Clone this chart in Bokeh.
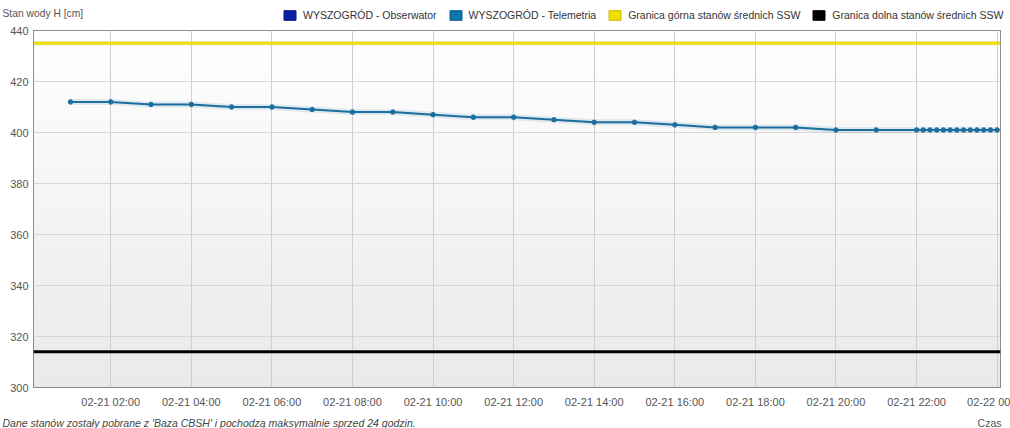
import numpy as np
import pandas as pd
from bokeh.plotting import figure
from bokeh.layouts import column
from bokeh.models import Range1d, FixedTicker, Legend, LegendItem, Label, ColumnDataSource
from bokeh.embed import file_html
from bokeh.resources import INLINE

# ---------------- data ----------------
times = [
    "2025-02-21 01:00", "2025-02-21 02:00", "2025-02-21 03:00", "2025-02-21 04:00",
    "2025-02-21 05:00", "2025-02-21 06:00", "2025-02-21 07:00", "2025-02-21 08:00",
    "2025-02-21 09:00", "2025-02-21 10:00", "2025-02-21 11:00", "2025-02-21 12:00",
    "2025-02-21 13:00", "2025-02-21 14:00", "2025-02-21 15:00", "2025-02-21 16:00",
    "2025-02-21 17:00", "2025-02-21 18:00", "2025-02-21 19:00", "2025-02-21 20:00",
    "2025-02-21 21:00", "2025-02-21 22:00", "2025-02-21 22:10", "2025-02-21 22:20",
    "2025-02-21 22:30", "2025-02-21 22:40", "2025-02-21 22:50", "2025-02-21 23:00",
    "2025-02-21 23:10", "2025-02-21 23:20", "2025-02-21 23:30", "2025-02-21 23:40",
    "2025-02-21 23:50", "2025-02-22 00:00",
]
telemetry_cm = [
    412, 412, 411, 411, 410, 410, 409, 408, 408, 407, 406, 406, 405, 404, 404, 403,
    402, 402, 402, 401, 401, 401, 401, 401, 401, 401, 401, 401, 401, 401, 401, 401,
    401, 401,
]
observer_times = []
observer_cm = []
upper_limit_cm = 435
lower_limit_cm = 314
range_start = "2025-02-21 00:05"
range_end = "2025-02-22 00:05"
y_min, y_max = 300, 440
y_ticks = [300, 320, 340, 360, 380, 400, 420, 440]
tick_times = [
    "2025-02-21 02:00", "2025-02-21 04:00", "2025-02-21 06:00", "2025-02-21 08:00",
    "2025-02-21 10:00", "2025-02-21 12:00", "2025-02-21 14:00", "2025-02-21 16:00",
    "2025-02-21 18:00", "2025-02-21 20:00", "2025-02-21 22:00", "2025-02-22 00:00",
]
tick_labels = [
    "02-21 02:00", "02-21 04:00", "02-21 06:00", "02-21 08:00", "02-21 10:00",
    "02-21 12:00", "02-21 14:00", "02-21 16:00", "02-21 18:00", "02-21 20:00",
    "02-21 22:00", "02-22 00",
]
series_names = [
    "WYSZOGRÓD - Obserwator",
    "WYSZOGRÓD - Telemetria",
    "Granica górna stanów średnich SSW",
    "Granica dolna stanów średnich SSW",
]
y_title = "Stan wody H [cm]"
x_title = "Czas"
footer_text = "Dane stanów zostały pobrane z 'Baza CBSH' i pochodzą maksymalnie sprzed 24 godzin."

# ---------------- styles ----------------
FONT = "Liberation Sans"
C_OBS = "#0a1fa8"
C_TEL = "#0d77ad"
C_LINE = "#1b6e9e"
C_UP = "#f0e000"
C_LOW = "#000000"
TXT = "#555555"
W = 1010
HEAD_H, MAIN_H, FOOT_H = 26, 384, 18


def ms(s):
    return int(pd.Timestamp(s).value // 10**6)


def bare(fig):
    fig.outline_line_color = None
    fig.background_fill_color = None
    fig.border_fill_color = "white"
    fig.min_border = 0
    fig.min_border_left = 0
    fig.min_border_right = 0
    fig.min_border_top = 0
    fig.min_border_bottom = 0
    fig.xgrid.visible = False
    fig.ygrid.visible = False
    fig.frame_align = False
    return fig


t_ms = [ms(t) for t in times]
xs, xe = ms(range_start), ms(range_end)
tick_ms = [ms(t) for t in tick_times]

# ---------------- header (y title + legend) ----------------
head = bare(figure(width=W, height=HEAD_H, x_range=Range1d(0, W), y_range=Range1d(0, HEAD_H),
                   x_axis_type=None, y_axis_type=None,
                   output_backend="svg", toolbar_location=None))
head.add_layout(Label(x=2, y=13, x_units="screen", y_units="screen", text=y_title,
                      text_font=FONT, text_font_size="10.3px", text_color=TXT,
                      text_baseline="middle"))
colors = [C_OBS, C_TEL, C_UP, C_LOW]
borders = ["#06157a", "#0a5f8a", "#c9bb00", "#000000"]
items = []
for name, c, b in zip(series_names, colors, borders):
    # legend swatch proxies: span the chart's data window, which lies outside this header's ranges
    r = head.quad(left=[xs], right=[xe], top=[y_max], bottom=[y_min], fill_color=c, line_color=b)
    items.append(LegendItem(label=name, renderers=[r]))
legend = Legend(
    items=items, orientation="horizontal", location=(282, 5),
    glyph_width=15, glyph_height=12, label_height=12,
    label_text_font=FONT, label_text_font_size="10.5px", label_text_color="#333333",
    label_text_baseline="middle",
    spacing=11, label_standoff=6, padding=0, margin=0,
    background_fill_alpha=0, border_line_color=None,
)
head.add_layout(legend, "center")

# ---------------- main chart ----------------
p = figure(
    width=W, height=MAIN_H,
    x_range=Range1d(xs, xe), y_range=Range1d(y_min, y_max),
    output_backend="svg", toolbar_location=None,
    min_border_left=33, min_border_right=10, min_border_top=4, min_border_bottom=22,
)
p.frame_align = False
p.background_fill_color = None
p.border_fill_color = "white"
p.outline_line_color = "#6a6a6a"
p.outline_line_width = 1

# gradient plot background (decorative)
H = 64
g = np.linspace(0xEA, 0xFF, H).astype(np.uint32)
img = np.empty((H, 1), dtype=np.uint32)
view = img.view(dtype=np.uint8).reshape((H, 1, 4))
view[:, 0, 0] = g
view[:, 0, 1] = g
view[:, 0, 2] = g
view[:, 0, 3] = 255
bg = p.image_rgba(image=[img], x=xs, y=y_min, dw=xe - xs, dh=y_max - y_min)
bg.level = "image"

p.xgrid.grid_line_color = "#cfcfcf"
p.ygrid.grid_line_color = "#d6d6d6"

p.xaxis.ticker = FixedTicker(ticks=tick_ms)
p.xaxis.major_label_overrides = {k: v for k, v in zip(tick_ms, tick_labels)}
p.yaxis.ticker = FixedTicker(ticks=y_ticks)
for ax in (p.xaxis[0], p.yaxis[0]):
    ax.axis_line_color = None
    ax.major_tick_line_color = None
    ax.minor_tick_line_color = None
    ax.major_tick_out = 0
    ax.major_tick_in = 0
    ax.minor_tick_out = 0
    ax.major_label_text_font = FONT
    ax.major_label_text_font_size = "11px"
    ax.major_label_text_color = TXT
p.xaxis.major_label_standoff = 8
p.yaxis.major_label_standoff = 5

# threshold lines
p.line([xs, xe], [upper_limit_cm, upper_limit_cm], line_color="#999999", line_width=4, line_alpha=0.25)
p.line([xs, xe], [upper_limit_cm, upper_limit_cm], line_color=C_UP, line_width=3)
p.line([xs, xe], [lower_limit_cm, lower_limit_cm], line_color=C_LOW, line_width=3)

# telemetry series
src = ColumnDataSource(dict(t=t_ms, h=telemetry_cm))
p.line("t", "h", source=src, line_color=C_LINE, line_width=6, line_alpha=0.12)
p.line("t", "h", source=src, line_color=C_LINE, line_width=2)
p.scatter("t", "h", source=src, size=4.5, fill_color=C_LINE, line_color=C_LINE)

# observer series (no data in this period)
obs_src = ColumnDataSource(dict(t=observer_times, h=observer_cm))
p.line("t", "h", source=obs_src, line_color=C_OBS, line_width=2)

# ---------------- footer ----------------
foot = bare(figure(width=W, height=FOOT_H, x_range=Range1d(0, W), y_range=Range1d(0, FOOT_H),
                   x_axis_type=None, y_axis_type=None,
                   output_backend="svg", toolbar_location=None))
foot.add_layout(Label(x=2, y=6, x_units="screen", y_units="screen", text=footer_text,
                      text_font=FONT, text_font_size="10.5px", text_color="#444444",
                      text_font_style="italic", text_baseline="middle"))
foot.add_layout(Label(x=1001, y=6, x_units="screen", y_units="screen", text=x_title,
                      text_font=FONT, text_font_size="10.5px", text_color=TXT,
                      text_align="right", text_baseline="middle"))

layout = column(head, p, foot, spacing=0)
open("out.html", "w").write(file_html(layout, INLINE))
